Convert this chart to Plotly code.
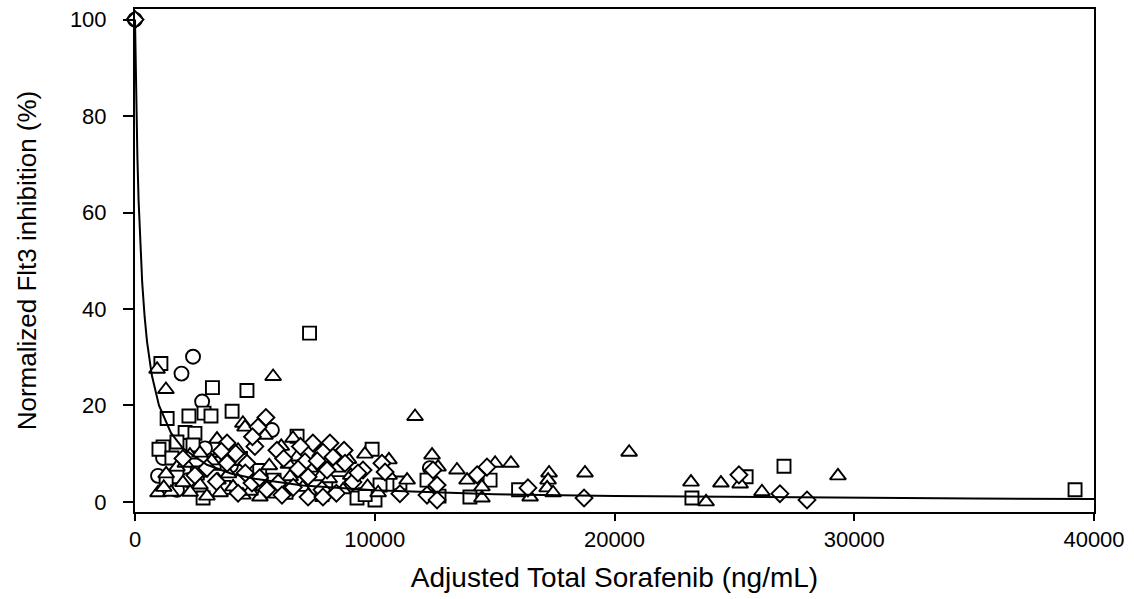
import plotly.graph_objects as go

# ---- data ----
circle_x = [0, 2420, 1940, 2800, 5710, 2920, 1170, 960, 1750, 12300, 2200, 4000]
circle_y = [100, 30.1, 26.6, 20.8, 14.9, 11.1, 9.1, 5.4, 2.5, 7.0, 4.5, 7.5]

square_x = [7280, 1080, 3230, 4670, 4050, 1340, 2250, 2880, 3170, 6760, 2090, 2500,
            1750, 1170, 1000, 2420, 1540, 1750, 2840, 9890, 12180, 14810, 10220, 11050,
            12680, 9260, 10010, 13970, 16000, 23230, 25490, 27070, 39210,
            8500, 6300, 5200, 3700, 7800, 4400, 1300, 2600, 3300, 5800, 9600]
square_y = [35.0, 28.7, 23.7, 23.1, 18.8, 17.3, 17.8, 18.4, 17.8, 13.6, 14.4, 14.2,
            12.4, 11.4, 10.9, 11.8, 9.1, 5.2, 0.8, 10.9, 4.5, 4.5, 3.5, 3.9,
            1.2, 0.8, 0.4, 1.0, 2.5, 0.8, 5.2, 7.4, 2.5,
            4.0, 2.0, 6.5, 3.0, 1.5, 9.0, 4.0, 6.0, 8.0, 4.5, 1.5]

triangle_x = [920, 1290, 5760, 11680, 4500, 4590, 5420, 6590, 3420, 4300, 2290, 2710,
              3550, 6760, 7720, 1750, 2710, 3460, 4090, 5340, 6470, 960, 2710, 3550,
              4500, 5210, 7720, 9590, 10590, 12390, 12640, 13430, 15020, 15680, 11350,
              13850, 14470, 8680, 10140, 14470, 20610, 16480, 17270, 17230, 17190, 17440,
              18770, 23190, 23820, 24440, 25240, 26150, 29320,
              5600, 6100, 8400, 9000, 7000, 3200, 2000, 1500,
              1200, 2300, 3000, 3900, 4800, 5900, 6400, 7300, 8100, 8900, 9700, 10600,
              2100, 1300]
triangle_y = [27.5, 23.3, 26.0, 17.7, 16.3, 15.5, 13.8, 13.2, 13.0, 10.7, 9.7, 10.1,
              10.1, 9.3, 10.1, 7.2, 6.0, 4.5, 3.1, 3.1, 5.2, 1.9, 3.5, 1.9,
              1.4, 1.0, 5.2, 9.9, 8.7, 9.7, 7.2, 6.6, 8.0, 8.0, 4.5,
              4.5, 3.1, 2.5, 1.9, 0.8, 10.3, 1.0, 6.0, 4.5, 2.9, 1.9,
              6.0, 4.1, 0.0, 3.9, 3.7, 2.1, 5.4,
              7.5, 11.5, 7.0, 5.5, 3.0, 8.5, 4.0, 2.0,
              3.0, 2.0, 1.2, 5.8, 2.2, 1.6, 7.8, 7.0, 4.8, 8.8, 3.2, 5.5,
              8.0, 5.8]

diamond_x = [0, 5460, 5130, 7420, 3840, 5920, 7090, 3840, 4670, 4880, 5970, 7220,
             6130, 7220, 7800, 8130, 8720, 7840, 8260, 8760, 9510, 10300, 10430, 12430,
             14680, 14270, 8010, 9090, 12600, 11050, 12180, 7840, 12600, 16390, 18730,
             25190, 26900, 28030,
             4200, 5000, 6200, 6800, 4600, 3000, 2500, 5500,
             3400, 4300, 5200, 6600, 7600, 8400, 9300, 2000, 3600, 4900, 6900]
diamond_y = [100, 17.5, 15.5, 12.2, 12.2, 10.7, 8.3, 8.0, 8.0, 3.9, 3.9, 5.2,
             1.4, 1.0, 2.5, 12.2, 10.7, 10.3, 9.3, 8.0, 6.6, 8.0, 6.2, 6.6,
             7.2, 5.6, 6.6, 4.1, 3.5, 1.7, 1.4, 1.0, 0.4, 2.9, 0.8,
             5.6, 1.7, 0.4,
             10.0, 11.5, 9.0, 6.8, 6.0, 7.0, 5.5, 2.5,
             4.2, 1.8, 5.0, 3.0, 8.5, 1.8, 6.0, 9.0, 10.5, 13.5, 11.5]

# fitted curve, values
curve_x = [0, 25, 50, 100, 150, 200, 300, 400, 500, 700, 1000, 1500, 2000, 3000,
           4000, 5000, 7000, 10000, 15000, 20000, 25000, 30000, 35000, 40000]
curve_y = [100, 90.9, 83.3, 71.4, 62.5, 55.6, 45.5, 38.5, 33.3, 26.3, 20.0, 14.3,
           11.1, 7.7, 5.9, 4.8, 3.4, 2.4, 1.6, 1.2, 1.0, 0.8, 0.7, 0.6]

x_ticks = [0, 10000, 20000, 30000, 40000]
y_ticks = [0, 20, 40, 60, 80, 100]

FONT = "Liberation Sans, Arial, sans-serif"

fig = go.Figure()

def add_markers(xs, ys, symbol, size):
    fig.add_trace(go.Scatter(
        x=xs, y=ys, mode="markers", cliponaxis=False,
        marker=dict(symbol=symbol, size=size, color="white",
                    line=dict(color="black", width=1.9)),
        showlegend=False, hoverinfo="x+y"))

add_markers(circle_x, circle_y, "circle", 14)
add_markers(square_x, square_y, "square", 13)
add_markers(triangle_x, triangle_y, "triangle-up", 14)
add_markers(diamond_x, diamond_y, "diamond", 13)

fig.add_trace(go.Scatter(x=curve_x, y=curve_y, mode="lines",
                         line=dict(color="black", width=2),
                         showlegend=False, hoverinfo="skip"))

fig.update_layout(
    width=1134, height=599,
    margin=dict(l=135, r=40, t=7, b=87),
    paper_bgcolor="white", plot_bgcolor="white",
    font=dict(family=FONT, color="black", size=22),
    xaxis=dict(range=[0, 40000], tickvals=x_ticks, ticktext=[str(v) for v in x_ticks],
               showgrid=False, zeroline=False, showline=True, linecolor="black",
               linewidth=2, mirror=True, ticks="outside", ticklen=7, tickwidth=2,
               tickcolor="black", tickfont=dict(size=22),
               title=dict(text="Adjusted Total Sorafenib (ng/mL)", font=dict(size=28),
                          standoff=16)),
    yaxis=dict(range=[-2.1, 102.2], tickvals=y_ticks, ticktext=[str(v) for v in y_ticks],
               showgrid=False, zeroline=False, showline=True, linecolor="black",
               linewidth=2, mirror=True, ticks="outside", ticklen=10, tickwidth=2,
               tickcolor="black", tickfont=dict(size=22), ticklabelstandoff=12,
               title=dict(text="Normalized Flt3 inhibition (%)", font=dict(size=26),
                          standoff=26)),
)

fig.write_html("out.html")
